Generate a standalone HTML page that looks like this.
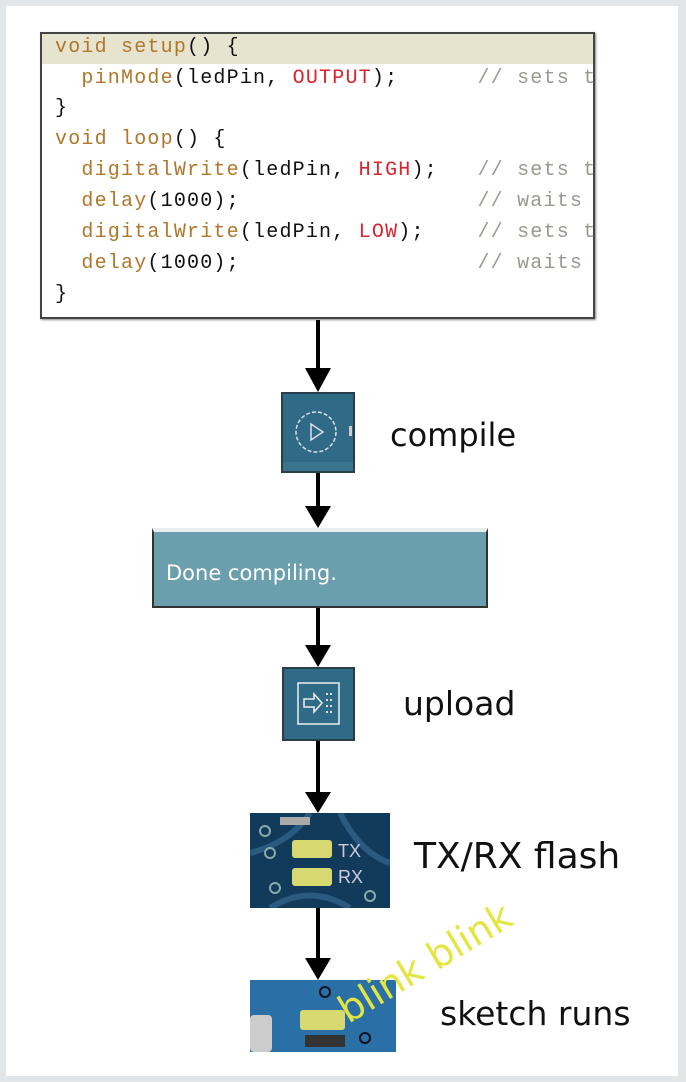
<!DOCTYPE html>
<html><head><style>
html,body{margin:0;padding:0}
body{width:686px;height:1082px;background:#e3e6e9;position:relative;overflow:hidden;font-family:"Liberation Sans",sans-serif}
.panel{position:absolute;left:6px;top:6px;width:672px;height:1070px;background:#fff}
.code{position:absolute;left:40px;top:32px;width:555px;height:287px;border:2px solid #444;background:#fff;box-sizing:border-box;overflow:hidden;box-shadow:1px 1px 2px #888}
.hl{position:absolute;left:0;top:0;width:100%;height:30px;background:#e6e4cf}
.ln{position:absolute;left:13px;font-family:"Liberation Mono",monospace;font-size:20px;letter-spacing:1.2px;color:#111;white-space:pre}
.k{color:#b0772b}.r{color:#d8242c}.c{color:#9a9a92}
.lbl{position:absolute;font-family:"DejaVu Sans","Liberation Sans",sans-serif;color:#111}
.btn{position:absolute;background:#2f6a86;border:2px solid #2a3e4a;box-sizing:border-box}
</style></head><body>
<div class="panel"></div>
<div class="code"><div class="hl"></div>
<div class="ln" style="top:2px"><span class="k">void setup</span>() {</div>
<div class="ln" style="top:33px">  <span class="k">pinMode</span>(ledPin, <span class="r">OUTPUT</span>);      <span class="c">// sets t</span></div>
<div class="ln" style="top:63px">}</div>
<div class="ln" style="top:94px"><span class="k">void loop</span>() {</div>
<div class="ln" style="top:125px">  <span class="k">digitalWrite</span>(ledPin, <span class="r">HIGH</span>);   <span class="c">// sets t</span></div>
<div class="ln" style="top:156px">  <span class="k">delay</span>(1000);                  <span class="c">// waits</span></div>
<div class="ln" style="top:187px">  <span class="k">digitalWrite</span>(ledPin, <span class="r">LOW</span>);    <span class="c">// sets t</span></div>
<div class="ln" style="top:218px">  <span class="k">delay</span>(1000);                  <span class="c">// waits</span></div>
<div class="ln" style="top:249px">}</div>
</div>
<svg width="686" height="1082" style="position:absolute;left:0;top:0">
<g stroke="#000" stroke-width="4">
<line x1="318" y1="320" x2="318" y2="380"/>
<line x1="318" y1="472" x2="318" y2="515"/>
<line x1="318" y1="608" x2="318" y2="655"/>
<line x1="318" y1="740" x2="318" y2="800"/>
<line x1="318" y1="906" x2="318" y2="966"/>
</g>
<g fill="#000">
<polygon points="305,368 331,368 318,392"/>
<polygon points="305,506 331,506 318,528"/>
<polygon points="305,645 331,645 318,667"/>
<polygon points="305,792 331,792 318,813"/>
<polygon points="305,958 331,958 318,980"/>
</g>
</svg>
<div class="btn" style="left:281px;top:392px;width:74px;height:81px">
<svg width="70" height="77" style="position:absolute;left:0;top:0">
<rect x="0" y="68" width="70" height="9" fill="#3a7590"/>
<circle cx="33" cy="38" r="20" fill="none" stroke="#dde" stroke-width="1.5" stroke-dasharray="4 2"/>
<polygon points="28,30 40,38 28,46" fill="none" stroke="#dde" stroke-width="1.5"/>
<rect x="66" y="32" width="3" height="10" fill="#ccc"/>
</svg></div>
<div class="lbl" style="left:390px;top:416px;font-size:32px">compile</div>
<div class="btn" style="left:152px;top:528px;width:336px;height:80px;background:#6c9fae;border-top:4px solid #e8eef0;border-color:#e8eef0 #333 #333 #333">
<div style="position:absolute;left:12px;top:29px;color:#fff;font-size:21px;font-family:'DejaVu Sans',sans-serif">Done compiling.</div></div>
<div class="btn" style="left:282px;top:667px;width:73px;height:74px">
<svg width="69" height="70" style="position:absolute;left:0;top:0">
<rect x="14" y="14" width="41" height="41" fill="none" stroke="#eee" stroke-width="1.5"/>
<polygon points="20,30 30,30 30,25 38,34 30,43 30,38 20,38" fill="none" stroke="#eee" stroke-width="1.5"/>
<g fill="#ddd"><rect x="42" y="24" width="2" height="2"/><rect x="46" y="24" width="2" height="2"/><rect x="42" y="30" width="2" height="2"/><rect x="46" y="30" width="2" height="2"/><rect x="42" y="36" width="2" height="2"/><rect x="46" y="36" width="2" height="2"/><rect x="42" y="42" width="2" height="2"/><rect x="46" y="42" width="2" height="2"/></g>
</svg></div>
<div class="lbl" style="left:403px;top:684px;font-size:33px">upload</div>
<svg width="140" height="95" style="position:absolute;left:250px;top:813px">
<rect width="140" height="95" fill="#123a5a"/>
<path d="M0,40 Q40,30 60,0 M90,0 Q110,40 140,50 M20,95 Q60,70 100,95" stroke="#2b5a80" stroke-width="6" fill="none"/>
<circle cx="15" cy="18" r="5" fill="none" stroke="#8aa" stroke-width="2"/>
<circle cx="20" cy="40" r="5" fill="none" stroke="#8aa" stroke-width="2"/>
<circle cx="25" cy="75" r="5" fill="none" stroke="#8aa" stroke-width="2"/>
<circle cx="120" cy="83" r="5" fill="none" stroke="#8aa" stroke-width="2"/>
<rect x="30" y="4" width="30" height="8" fill="#aaa"/>
<rect x="42" y="27" width="40" height="18" rx="3" fill="#d8d870"/>
<rect x="42" y="55" width="40" height="18" rx="3" fill="#d8d870"/>
<text x="88" y="44" fill="#ccd" font-size="18" font-family="Liberation Sans">TX</text>
<text x="88" y="70" fill="#ccd" font-size="18" font-family="Liberation Sans">RX</text>
</svg>
<div class="lbl" style="left:414px;top:836px;font-size:36px">TX/RX flash</div>
<svg width="146" height="72" style="position:absolute;left:250px;top:980px">
<rect width="146" height="72" fill="#2a6fa6"/>
<rect x="0" y="35" width="22" height="37" rx="4" fill="#ccc"/>
<rect x="50" y="30" width="45" height="20" rx="3" fill="#d8d870"/>
<rect x="55" y="55" width="40" height="12" fill="#333"/>
<circle cx="75" cy="12" r="5" fill="none" stroke="#112" stroke-width="2"/>
<circle cx="115" cy="58" r="5" fill="none" stroke="#112" stroke-width="2"/>
</svg>
<div class="lbl" style="left:440px;top:994px;font-size:33px">sketch runs</div>
<div style="position:absolute;left:352px;top:990px;font-family:'DejaVu Sans',sans-serif;font-size:38px;line-height:40px;color:#e3e640;transform:rotate(-31deg);transform-origin:left bottom;white-space:nowrap">blink blink</div>
</body></html>
